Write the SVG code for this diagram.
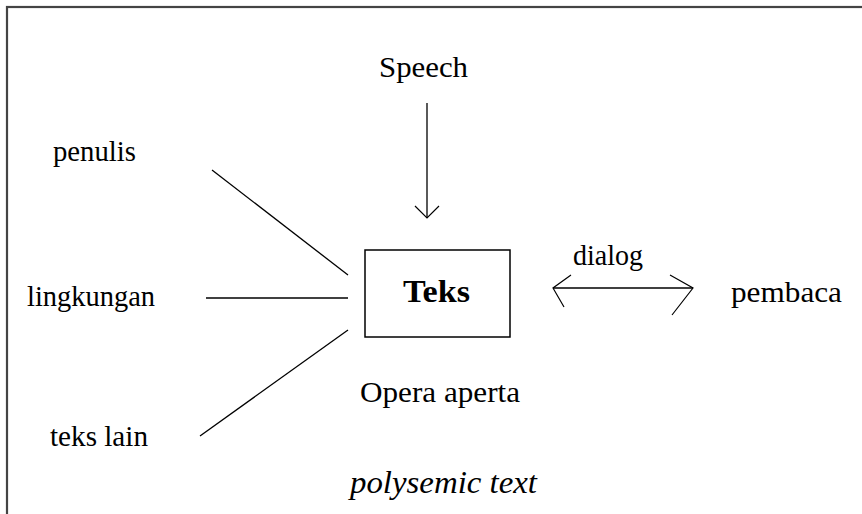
<svg xmlns="http://www.w3.org/2000/svg" width="862" height="514" viewBox="0 0 862 514">
<style>
text{font-family:"Liberation Serif","Times New Roman",serif;font-size:30px;fill:#000}
.b{font-weight:bold;font-size:31px}
.i{font-style:italic;font-size:31px}
.ln{stroke:#000;stroke-width:1.3;fill:none}
.hd{stroke:#000;stroke-width:1.2;fill:none}
</style>
<rect x="0" y="0" width="862" height="514" fill="#fff"/>
<rect x="7" y="7" width="880" height="540" fill="none" stroke="#444" stroke-width="2.2"/>
<g id="speech"><text x="379" y="77" textLength="89" lengthAdjust="spacingAndGlyphs">Speech</text></g>
<g id="penulis"><text x="53" y="161" textLength="83" lengthAdjust="spacingAndGlyphs">penulis</text></g>
<g id="lingkungan"><text x="27" y="306" textLength="128" lengthAdjust="spacingAndGlyphs">lingkungan</text></g>
<g id="teks-lain"><text x="50" y="446" textLength="98" lengthAdjust="spacingAndGlyphs">teks lain</text></g>
<g id="teks"><rect x="365" y="250" width="145" height="87" fill="#fff" stroke="#000" stroke-width="1.5"/><text class="b" x="403" y="302" textLength="67" lengthAdjust="spacingAndGlyphs">Teks</text></g>
<g id="pembaca"><text x="731" y="302" textLength="111" lengthAdjust="spacingAndGlyphs">pembaca</text></g>
<g id="opera"><text x="360" y="402" textLength="160" lengthAdjust="spacingAndGlyphs">Opera aperta</text></g>
<g id="polysemic"><text class="i" x="350" y="493" textLength="187" lengthAdjust="spacingAndGlyphs">polysemic text</text></g>
<g id="connectors">
<line class="ln" x1="212" y1="170" x2="348" y2="275"/>
<line class="ln" x1="206" y1="298" x2="348" y2="298"/>
<line class="ln" x1="200" y1="436" x2="348" y2="330"/>
<line class="ln" x1="427" y1="103" x2="427" y2="218"/>
<path class="hd" d="M415 206 L427 218 L439 206"/>
<line class="ln" x1="553" y1="288" x2="693" y2="288"/>
<path class="hd" d="M571 275 L553 288 L564 307"/>
<path class="hd" d="M670 275 L693 288 L672 315"/>
<text x="573" y="265" textLength="70" lengthAdjust="spacingAndGlyphs">dialog</text>
</g>
</svg>
